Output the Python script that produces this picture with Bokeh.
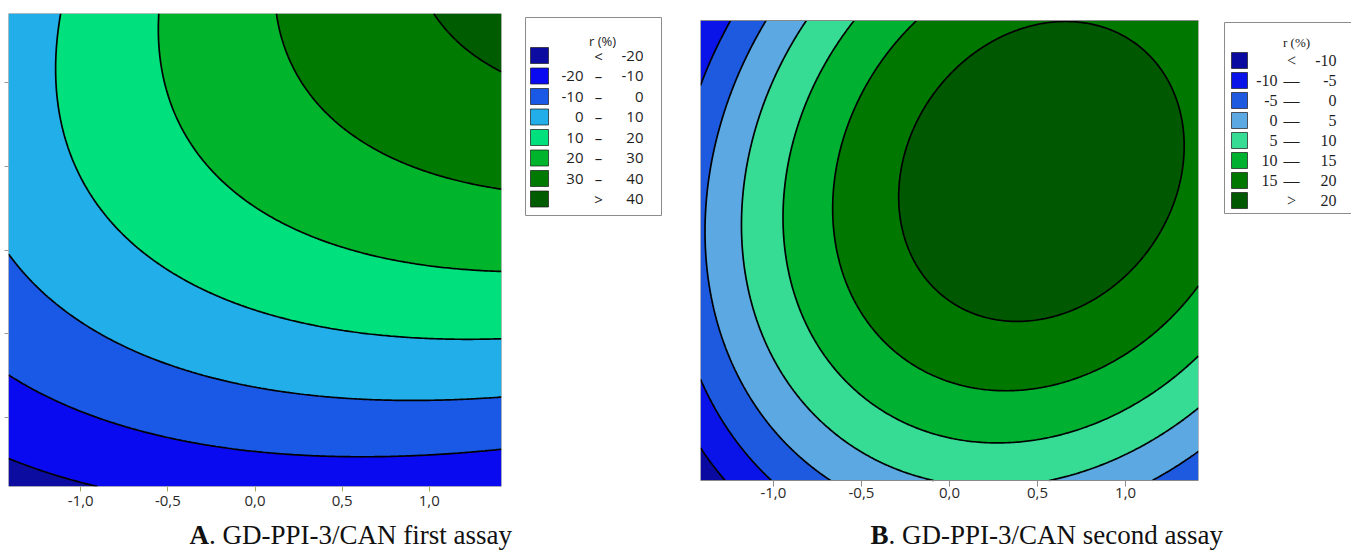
import numpy as np
from bokeh.plotting import figure
from bokeh.layouts import row, column
from bokeh.models import Range1d, FixedTicker, CustomJSTickFormatter
from bokeh.core.properties import value
from bokeh.embed import file_html
from bokeh.resources import INLINE

# ---------------- data ----------------
AXIS_LIMIT = 1.414
X_TICKS = [-1.0, -0.5, 0.0, 0.5, 1.0]

# Panel A: contour levels and points (x, y, r%)
A_LEVELS = [-20, -10, 0, 10, 20, 30, 40]
A_PT_LEVEL = [40, 40, 40,
              30, 30, 30, 30, 30, 30,
              20, 20, 20, 20, 20, 20, 20,
              10, 10, 10, 10, 10, 10, 10, 10,
              0, 0, 0, 0, 0, 0,
              -10, -10, -10, -10, -10, -10,
              -20, -20]
A_PT_X = [1.085, 1.254, 1.414,
          0.12, 0.17, 0.32, 0.55, 0.93, 1.414,
          -0.54, -0.50, -0.38, -0.12, 0.26, 0.65, 1.414,
          -1.10, -1.11, -1.04, -0.88, -0.69, -0.12, 0.65, 1.414,
          -1.414, -0.88, -0.31, 0.26, 0.84, 1.414,
          -1.414, -0.88, -0.31, 0.26, 0.84, 1.414,
          -1.414, -1.07]
A_PT_Y = [1.414, 1.25, 1.12,
          1.414, 1.09, 0.79, 0.59, 0.43, 0.37,
          1.414, 0.99, 0.59, 0.30, 0.10, -0.04, -0.13,
          1.414, 0.99, 0.53, 0.135, -0.02, -0.36, -0.52, -0.54,
          -0.02, -0.40, -0.62, -0.76, -0.84, -0.88,
          -0.77, -0.98, -1.14, -1.27, -1.26, -1.20,
          -1.27, -1.414]
A_COLORS = ["#0c0ca0", "#0a0af0", "#1a58e6", "#22aee8",
            "#00e07c", "#00b42c", "#007a00", "#005c00"]
A_LEG_LO = ["", "-20", "-10", "0", "10", "20", "30", ""]
A_LEG_SEP = ["<", "\u2013", "\u2013", "\u2013", "\u2013", "\u2013", "\u2013", ">"]
A_LEG_HI = ["-20", "-10", "0", "10", "20", "30", "40", "40"]
A_CAPTION = ["A", ". GD-PPI-3/CAN first assay"]

# Panel B
B_LEVELS = [-10, -5, 0, 5, 10, 15, 20]
B_PT_LEVEL = [20, 20, 20, 20, 20, 20, 20, 20,
              15, 15, 15, 15, 15, 15, 15,
              10, 10, 10, 10, 10, 10, 10, 10,
              5, 5, 5, 5, 5, 5,
              0, 0, 0, 0, 0, 0, 0,
              -5, -5, -5, -5,
              -10, -10]
B_PT_X = [-0.31, -0.18, 0.50, 0.99, 1.36, 1.09, 0.38, -0.18,
          -0.21, -0.57, -0.67, -0.57, -0.33, 0.33, 1.414,
          -0.54, -0.84, -0.94, -0.84, -0.52, 0.24, 0.80, 1.414,
          -0.79, -1.17, -0.99, -0.09, 0.55, 1.414,
          -1.02, -1.32, -1.38, -1.22, -0.68, 1.16, 1.414,
          -1.28, -1.414, -1.414, -1.03,
          -1.414, -1.27]
B_PT_Y = [0.31, 0.86, 1.40, 1.21, 0.66, -0.12, -0.46, -0.16,
          1.414, 0.80, 0.31, -0.16, -0.49, -0.87, -0.23,
          1.414, 0.86, 0.17, -0.37, -0.88, -1.19, -1.05, -0.66,
          1.414, 0.04, -0.78, -1.414, -1.414, -0.96,
          1.414, 0.66, -0.06, -0.68, -1.414, -1.414, -1.22,
          1.414, 1.00, -0.79, -1.414,
          -1.21, -1.414]
B_COLORS = ["#0a0aa0", "#0a14e8", "#1e5ae0", "#5ca8e2",
            "#36dc94", "#00b030", "#007800", "#005800"]
B_LEG_LO = ["", "-10", "-5", "0", "5", "10", "15", ""]
B_LEG_SEP = ["<", "\u2014", "\u2014", "\u2014", "\u2014", "\u2014", "\u2014", ">"]
B_LEG_HI = ["-10", "-5", "0", "5", "10", "15", "20", "20"]
B_CAPTION = ["B", ". GD-PPI-3/CAN second assay"]

LEGEND_TITLE = "r (%)"

# ---------------- layout constants (page pixels) ----------------
ROW_H = 515
FRAME_TOP, FRAME_BOTTOM = 13, 486          # shared frame rows of the top row
BORDER_T, BORDER_B = FRAME_TOP, ROW_H - FRAME_BOTTOM


# ---------------- helpers ----------------
def response_surface(px, py, pz, n=241):
    """Least-squares quadratic response surface through the read contour points."""
    px, py, pz = (np.asarray(a, dtype=float) for a in (px, py, pz))
    M = np.column_stack([np.ones_like(px), px, py, px ** 2, py ** 2, px * py])
    c, *_ = np.linalg.lstsq(M, pz, rcond=None)
    g = np.linspace(-AXIS_LIMIT, AXIS_LIMIT, n)
    X, Y = np.meshgrid(g, g)
    Z = c[0] + c[1] * X + c[2] * Y + c[3] * X ** 2 + c[4] * Y ** 2 + c[5] * X * Y
    return g, Z


def panel(px, py, pz, levels, colors, width, border_lr, box_top, box_bottom,
          tick_color, tick_in, tick_out, standoff, show_yticks):
    """box_top/box_bottom: page rows of the plotted square inside the shared frame."""
    g, Z = response_surface(px, py, pz)
    lv = [min(Z.min(), levels[0]) - 1.0] + list(levels) + [max(Z.max(), levels[-1]) + 1.0]
    upp = 2 * AXIS_LIMIT / (box_bottom - box_top)   # data units per pixel
    y_hi = AXIS_LIMIT + (box_top - FRAME_TOP) * upp
    y_lo = -AXIS_LIMIT - (FRAME_BOTTOM - box_bottom) * upp
    p = figure(width=width, height=ROW_H,
               x_range=Range1d(-AXIS_LIMIT, AXIS_LIMIT),
               y_range=Range1d(y_lo, y_hi),
               output_backend="svg", toolbar_location=None,
               min_border_left=border_lr[0], min_border_right=border_lr[1],
               min_border_top=BORDER_T, min_border_bottom=BORDER_B,
               y_axis_type="linear" if show_yticks else None)
    p.contour(x=g, y=g, z=Z, levels=lv, fill_color=colors,
              line_color="black", line_width=1.7)
    p.quad(left=[-AXIS_LIMIT], right=[AXIS_LIMIT], bottom=[-AXIS_LIMIT], top=[AXIS_LIMIT],
           fill_color=None, line_color="#8a8a8a", line_width=1)
    p.grid.visible = False
    p.outline_line_color = None
    p.background_fill_color = "white"
    p.border_fill_color = "white"
    xa = p.xaxis[0]
    xa.ticker = FixedTicker(ticks=X_TICKS)
    xa.formatter = CustomJSTickFormatter(code="return tick.toFixed(1).replace('.', ',');")
    xa.axis_line_color = None
    xa.major_tick_line_color = tick_color
    xa.major_tick_out = tick_out
    xa.major_tick_in = tick_in
    xa.minor_tick_line_color = None
    xa.major_label_standoff = standoff
    xa.major_label_text_font = "Open Sans"
    xa.major_label_text_font_size = "15px"
    xa.major_label_text_color = "#2a2a2a"
    if show_yticks:
        ya = p.yaxis[0]
        ya.ticker = FixedTicker(ticks=X_TICKS)
        ya.formatter = CustomJSTickFormatter(code="return '';")
        ya.axis_line_color = None
        ya.major_tick_line_color = "#9a9a9a"
        ya.major_tick_out = 4
        ya.major_tick_in = 0
        ya.minor_tick_line_color = None
        ya.major_label_standoff = 0
    return p


def canvas(x0, x1, height, y_top, y_bottom, border_t=0, border_b=0):
    p = figure(width=int(x1 - x0), height=height,
               x_range=Range1d(x0, x1), y_range=Range1d(y_bottom, y_top),
               output_backend="svg", toolbar_location=None,
               min_border_left=0, min_border_right=0,
               min_border_top=border_t, min_border_bottom=border_b,
               x_axis_type=None, y_axis_type=None)
    p.grid.visible = False
    p.outline_line_color = None
    p.background_fill_color = "white"
    p.border_fill_color = "white"
    return p


def legend(x0, x1, box, title_x, title_y, row0, dy, sw, cols, lo, sep, hi, colors, font, size):
    p = canvas(x0, x1, ROW_H, FRAME_TOP, FRAME_BOTTOM, BORDER_T, BORDER_B)
    p.quad(left=[box[0]], right=[box[1]], top=[box[2]], bottom=[box[3]],
           fill_color="white", line_color="#8c8c8c", line_width=1)
    p.text(x=[title_x], y=[title_y], text=[LEGEND_TITLE], text_align="center",
           text_baseline="middle", text_font=value(font), text_font_size="13px",
           text_color="#222222")
    ys = [row0 + dy * i for i in range(len(colors))]
    p.quad(left=[sw[0]] * len(ys), right=[sw[1]] * len(ys),
           top=[y - 8 for y in ys], bottom=[y + 8 for y in ys],
           fill_color=colors, line_color="#1a1a1a", line_alpha=0.7, line_width=1)
    common = dict(text_baseline="middle", text_font=value(font),
                  text_font_size=size, text_color="#1e1e1e")
    for col, labels, align in ((cols[0], lo, "right"), (cols[1], sep, "center"),
                               (cols[2], hi, "right")):
        keep = [i for i, t in enumerate(labels) if t]
        p.text(x=[col] * len(keep), y=[ys[i] for i in keep],
               text=[labels[i] for i in keep], text_align=align, **common)
    return p


# ---------------- build ----------------
pA = panel(A_PT_X, A_PT_Y, A_PT_LEVEL, A_LEVELS, A_COLORS, 515, (8, 14),
           13, 486, "#a8a860", 0, 5, 4, True)
legA = legend(515, 670, (525, 661, 17, 215), 602, 40, 55, 20.5, (530, 548),
              (583, 598, 643), A_LEG_LO, A_LEG_SEP, A_LEG_HI, A_COLORS,
              "Open Sans", "15px")
pB = panel(B_PT_X, B_PT_Y, B_PT_LEVEL, B_LEVELS, B_COLORS, 542, (30, 14),
           20, 480, "#8c8c8c", 6, 0, 1, False)
legB = legend(1212, 1351, (1224, 1362, 22, 213), 1296, 42, 60, 20, (1231, 1247),
              (1277, 1291, 1336), B_LEG_LO, B_LEG_SEP, B_LEG_HI, B_COLORS,
              "Liberation Serif", "16px")

cap = canvas(0, 1351, 552 - ROW_H, ROW_H, 552)
cap_style = dict(text_baseline="middle", text_align="left",
                 text_font=value("Liberation Serif"), text_font_size="27px",
                 text_color="#111111")
cap.text(x=[189, 870], y=[534, 534], text=[A_CAPTION[0], B_CAPTION[0]],
         text_font_style="bold", **cap_style)
cap.text(x=[189 + 19.5, 870 + 18.0], y=[534, 534], text=[A_CAPTION[1], B_CAPTION[1]],
         **cap_style)

layout = column(row(pA, legA, pB, legB, spacing=0), cap, spacing=0)

open("out.html", "w").write(file_html(layout, INLINE))
